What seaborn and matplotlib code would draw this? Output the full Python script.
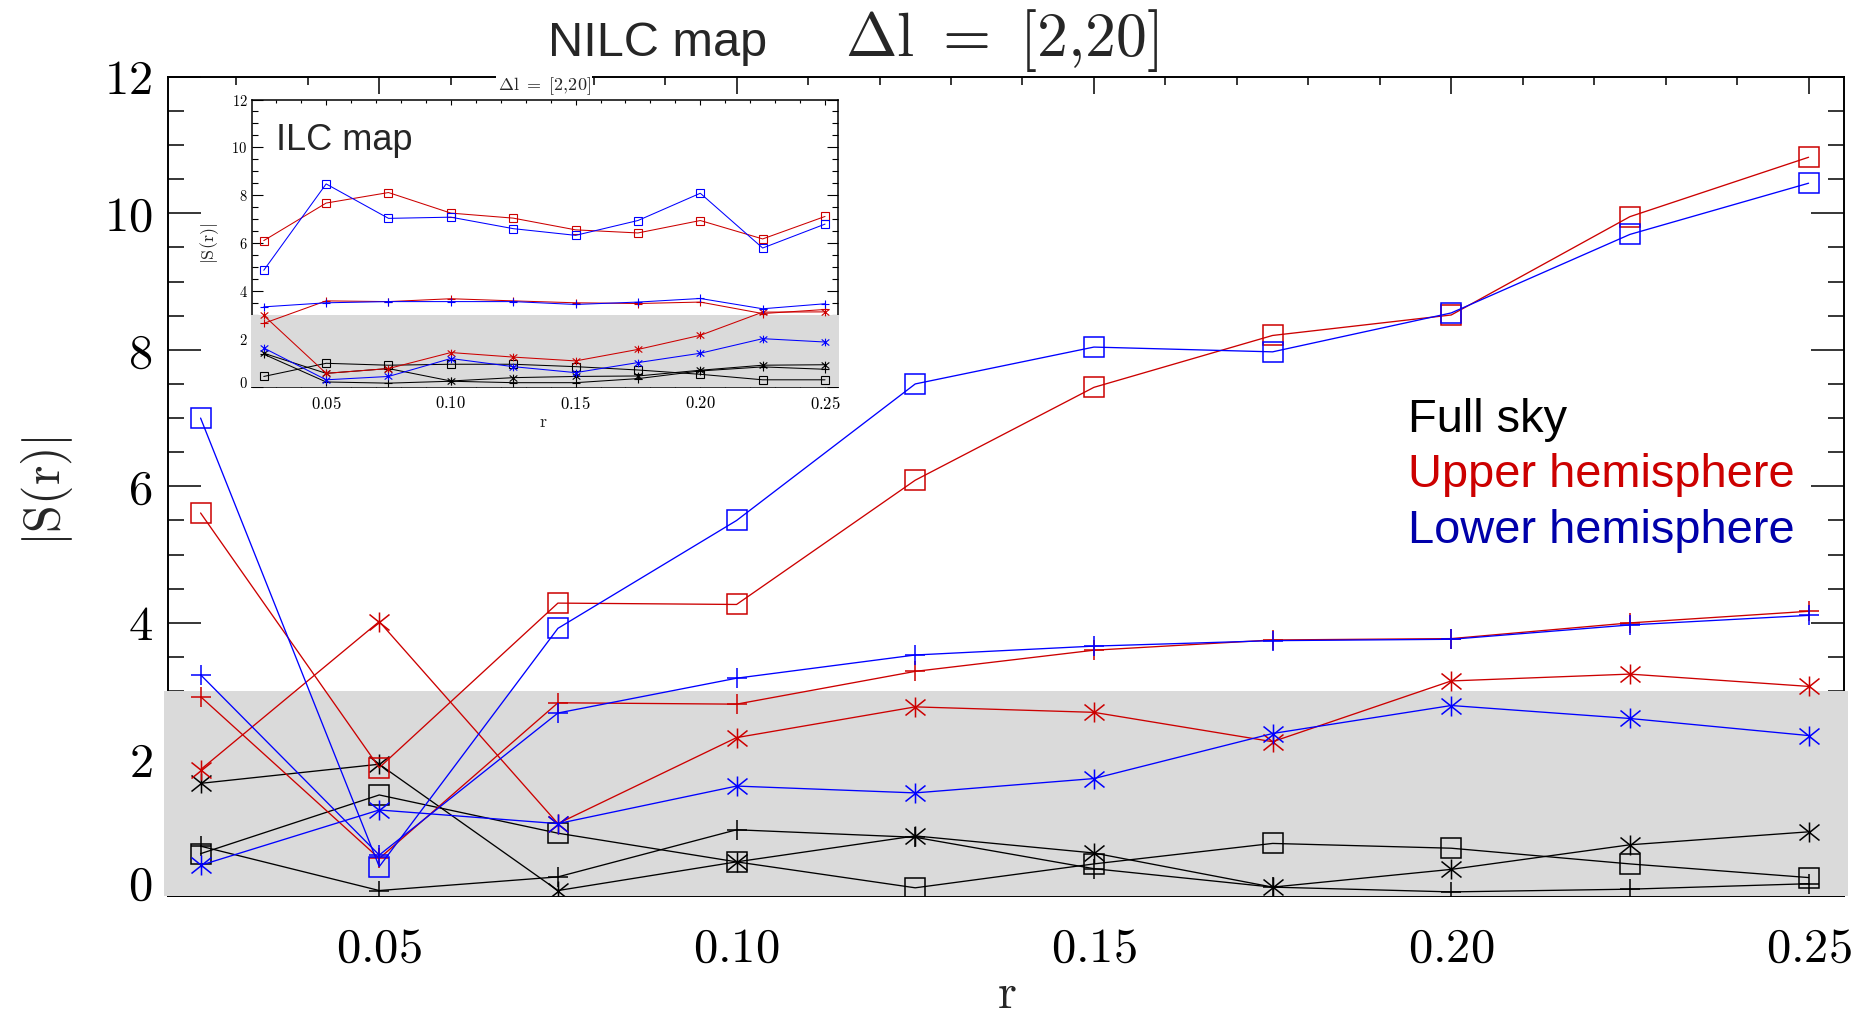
import numpy as np
import pandas as pd
import matplotlib
matplotlib.use('Agg')
import matplotlib.pyplot as plt
import seaborn as sns
from matplotlib.path import Path
from matplotlib.patches import Rectangle
from matplotlib.transforms import blended_transform_factory, ScaledTranslation
from matplotlib.ticker import MultipleLocator, FuncFormatter

# ---------------- data ----------------
r = [0.025, 0.05, 0.075, 0.10, 0.125, 0.15, 0.175, 0.20, 0.225, 0.25]

# NILC map (main panel)
nilc_full_sq = [0.62, 1.48, 0.92, 0.50, 0.12, 0.47, 0.77, 0.70, 0.47, 0.27]
nilc_full_plus = [0.73, 0.08, 0.28, 0.97, 0.86, 0.40, 0.13, 0.06, 0.10, 0.18]
nilc_full_ast = [1.65, 1.93, 0.08, 0.50, 0.88, 0.63, 0.13, 0.39, 0.75, 0.94]
nilc_up_sq = [5.61, 1.88, 4.29, 4.27, 6.09, 7.45, 8.21, 8.51, 9.95, 10.82]
nilc_up_plus = [2.92, 0.55, 2.83, 2.81, 3.29, 3.60, 3.75, 3.77, 4.00, 4.17]
nilc_up_ast = [1.85, 4.02, 1.06, 2.32, 2.77, 2.69, 2.26, 3.15, 3.25, 3.07]
nilc_low_sq = [7.00, 0.43, 3.92, 5.50, 7.50, 8.04, 7.97, 8.54, 9.69, 10.44]
nilc_low_plus = [3.24, 0.60, 2.68, 3.19, 3.53, 3.66, 3.74, 3.76, 3.97, 4.11]
nilc_low_ast = [0.45, 1.26, 1.06, 1.61, 1.51, 1.72, 2.38, 2.79, 2.60, 2.35]

# ILC map (inset)
ilc_full_sq = [0.42, 0.97, 0.89, 0.93, 0.93, 0.83, 0.69, 0.51, 0.28, 0.28]
ilc_full_plus = [1.35, 0.19, 0.14, 0.22, 0.16, 0.16, 0.33, 0.65, 0.82, 0.72]
ilc_full_ast = [1.39, 0.55, 0.75, 0.23, 0.37, 0.42, 0.44, 0.68, 0.89, 0.91]
ilc_up_sq = [6.10, 7.67, 8.11, 7.25, 7.04, 6.55, 6.42, 6.94, 6.17, 7.11]
ilc_up_plus = [2.64, 3.58, 3.55, 3.67, 3.58, 3.50, 3.47, 3.53, 3.05, 3.22]
ilc_up_ast = [2.97, 0.55, 0.75, 1.42, 1.23, 1.07, 1.55, 2.14, 3.11, 3.12]
ilc_low_sq = [4.86, 8.47, 7.03, 7.08, 6.60, 6.32, 6.94, 8.08, 5.79, 6.79]
ilc_low_plus = [3.33, 3.50, 3.55, 3.55, 3.55, 3.43, 3.53, 3.68, 3.25, 3.46]
ilc_low_ast = [1.61, 0.28, 0.42, 1.17, 0.83, 0.58, 1.00, 1.39, 2.00, 1.86]

legend_labels = ["Full sky", "Upper hemisphere", "Lower hemisphere"]
x_ticks = [0.05, 0.10, 0.15, 0.20, 0.25]
y_ticks = [0, 2, 4, 6, 8, 10, 12]

# ---------------- style ----------------
sns.set_theme(style='white')
plt.rcParams['font.family'] = ['Liberation Sans', 'DejaVu Sans']
plt.rcParams['mathtext.fontset'] = 'cm'

BLACK, RED, BLUE = '#000000', '#CC0000', '#0000FF'
TXT_BLUE = '#0000AA'
BAND = '#dadada'

ast_path = Path([(0, -1), (0, 1), (-1, -0.8), (1, 0.8), (-1, 0.8), (1, -0.8)],
                [Path.MOVETO, Path.LINETO, Path.MOVETO, Path.LINETO, Path.MOVETO, Path.LINETO])

W, H = 1859, 1015
fig = plt.figure(figsize=(W / 100, H / 100), dpi=100)


def fx(px):
    return px / W


def fy(py):
    return 1 - py / H


def series_table(fs, fp, fa, us, up, ua, ls, lp, la):
    return [(fs, BLACK, 's'), (fp, BLACK, '+'), (fa, BLACK, ast_path),
            (us, RED, 's'), (up, RED, '+'), (ua, RED, ast_path),
            (ls, BLUE, 's'), (lp, BLUE, '+'), (la, BLUE, ast_path)]


def draw_panel(axx, table, ms, lw, mew):
    for vals, col, mk in table:
        sns.lineplot(x=r, y=vals, ax=axx, color=col, marker=mk, markersize=ms,
                     markerfacecolor='none', markeredgecolor=col, markeredgewidth=mew,
                     linewidth=lw, sort=False, errorbar=None, legend=False, zorder=4)
    trans = blended_transform_factory(axx.transAxes, axx.transData)
    axx.add_patch(Rectangle((-0.002, 0), 1.004, 3, transform=trans, facecolor=BAND,
                            edgecolor='none', zorder=3, clip_on=False))


def style_axes(axx, xlen, xminlen, ylen, yminlen, lab_size, xpad, ypad, spw, tw):
    axx.set_xlim(0.0204, 0.2550)
    axx.set_ylim(0, 12)
    axx.xaxis.set_major_locator(MultipleLocator(0.05))
    axx.xaxis.set_minor_locator(MultipleLocator(0.01))
    axx.yaxis.set_major_locator(MultipleLocator(2))
    axx.yaxis.set_minor_locator(MultipleLocator(0.5))
    axx.xaxis.set_major_formatter(FuncFormatter(lambda v, p: f'${v:.2f}$'))
    axx.yaxis.set_major_formatter(FuncFormatter(lambda v, p: f'${v:.0f}$'))
    axx.tick_params(which='both', direction='in', top=True, right=True, bottom=True,
                    left=True, colors='black', width=tw)
    axx.tick_params(axis='x', which='major', length=xlen, labelsize=lab_size[0], pad=xpad)
    axx.tick_params(axis='x', which='minor', length=xminlen)
    axx.tick_params(axis='y', which='major', length=ylen, labelsize=lab_size[1], pad=ypad)
    axx.tick_params(axis='y', which='minor', length=yminlen)
    for s in axx.spines.values():
        s.set_color('black')
        s.set_linewidth(spw)
        s.set_visible(True)
    axx.set_xlabel('')
    axx.set_ylabel('')
    axx.grid(False)


def lift_zero_label(axx, px):
    axx.set_yticks(y_ticks)
    lab = axx.yaxis.get_major_ticks()[0].label1
    lab.set_transform(lab.get_transform() + ScaledTranslation(0, px / 100, fig.dpi_scale_trans))


# ---------------- main axes ----------------
ax = fig.add_axes([fx(167.7), fy(896), fx(1844.3) - fx(167.7), fy(76.7) - fy(896)])
ax.set_facecolor('white')
draw_panel(ax, series_table(nilc_full_sq, nilc_full_plus, nilc_full_ast,
                            nilc_up_sq, nilc_up_plus, nilc_up_ast,
                            nilc_low_sq, nilc_low_plus, nilc_low_ast),
           ms=14.4, lw=0.95, mew=1.1)
style_axes(ax, 12, 6, 24, 11.5, (35, 35), 22, 11, 1.4, 1.1)
ax.set_xticks(x_ticks)
lift_zero_label(ax, 14)

fig.text(fx(1007), fy(995), r'$\mathrm{r}$', fontsize=35, ha='center', va='center')
fig.text(fx(47), fy(491), r'$|\mathrm{S(r)}|$', fontsize=36, ha='center', va='center',
         rotation=90)

# title
fig.text(fx(548), fy(56), 'NILC map', fontsize=35, ha='left', va='baseline')
fig.text(fx(845), fy(56), r'$\Delta\mathrm{l}\ =\ [2{,}20]$', fontsize=44.5, ha='left',
         va='baseline')

# legend texts
for lab, col, yb in zip(legend_labels, [BLACK, RED, TXT_BLUE], [432, 487, 543]):
    fig.text(fx(1408), fy(yb), lab, fontsize=33.8, color=col, ha='left', va='baseline')

# ---------------- inset ----------------
ins = fig.add_axes([fx(252.3), fy(386.5), fx(837.5) - fx(252.3), fy(99.5) - fy(386.5)])
ins.set_facecolor('white')
draw_panel(ins, series_table(ilc_full_sq, ilc_full_plus, ilc_full_ast,
                             ilc_up_sq, ilc_up_plus, ilc_up_ast,
                             ilc_low_sq, ilc_low_plus, ilc_low_ast),
           ms=5.5, lw=0.75, mew=0.8)
style_axes(ins, 3.5, 2, 8, 4.3, (12, 10.5), 6, 3.5, 1.1, 0.8)
ins.set_xticks(x_ticks)
lift_zero_label(ins, 5)

fig.text(fx(276), fy(150), 'ILC map', fontsize=26, ha='left', va='baseline')
fig.text(fx(544), fy(86), r'$\Delta\mathrm{l}\ =\ [2{,}20]$', fontsize=13, ha='center',
         va='center', bbox=dict(facecolor='white', edgecolor='none', pad=1))
fig.text(fx(210), fy(244), r'$|\mathrm{S(r)}|$', fontsize=13, ha='center', va='center',
         rotation=90)
fig.text(fx(543), fy(422), r'$\mathrm{r}$', fontsize=13, ha='center', va='center')

fig.savefig('out.png', dpi=100, facecolor='white')
